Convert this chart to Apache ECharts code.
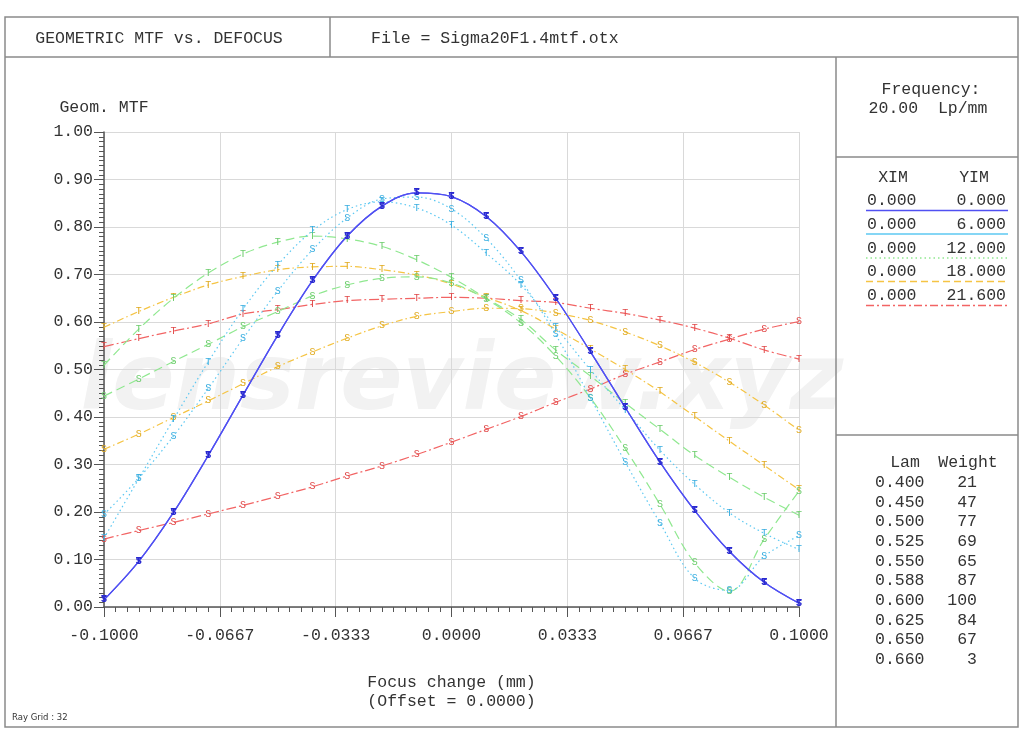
<!DOCTYPE html>
<html>
<head>
<meta charset="utf-8">
<script src="https://cdn.jsdelivr.net/npm/echarts@6/dist/echarts.min.js"></script>
<style>
html,body{margin:0;padding:0;background:#fff;}
#chart{width:1024px;height:731px;}
</style>
</head>
<body>
<div id="chart"></div>
<script>
// ---- data ----
const focus = [-0.10,-0.09,-0.08,-0.07,-0.06,-0.05,-0.04,-0.03,-0.02,-0.01,0.00,0.01,0.02,0.03,0.04,0.05,0.06,0.07,0.08,0.09,0.10];
const xTickLabels = ['-0.1000','-0.0667','-0.0333','0.0000','0.0333','0.0667','0.1000'];
// field 0.000 (T and S coincide)
const f0T = [0.015,0.096,0.199,0.319,0.446,0.572,0.687,0.781,0.844,0.872,0.864,0.822,0.748,0.650,0.537,0.420,0.305,0.203,0.117,0.052,0.008];
const f0S = [0.015,0.096,0.199,0.319,0.446,0.572,0.687,0.781,0.844,0.872,0.864,0.822,0.748,0.650,0.537,0.420,0.305,0.203,0.117,0.052,0.008];
// field 6.000
const f6T = [0.145,0.270,0.395,0.516,0.627,0.720,0.792,0.837,0.853,0.840,0.804,0.745,0.678,0.589,0.499,0.415,0.330,0.258,0.198,0.155,0.121];
const f6S = [0.195,0.271,0.360,0.460,0.565,0.665,0.752,0.819,0.859,0.863,0.838,0.776,0.687,0.573,0.440,0.305,0.177,0.060,0.035,0.107,0.150];
// field 12.000
const f12T = [0.509,0.585,0.650,0.703,0.743,0.768,0.781,0.775,0.759,0.731,0.694,0.650,0.605,0.541,0.486,0.429,0.374,0.319,0.273,0.231,0.193];
const f12S = [0.444,0.480,0.517,0.553,0.590,0.622,0.655,0.678,0.692,0.695,0.682,0.648,0.598,0.528,0.440,0.333,0.216,0.093,0.033,0.143,0.244];
// field 18.000
const f18T = [0.589,0.622,0.652,0.678,0.696,0.710,0.716,0.717,0.710,0.699,0.680,0.652,0.624,0.585,0.543,0.500,0.453,0.401,0.349,0.298,0.247];
const f18S = [0.332,0.364,0.399,0.434,0.470,0.506,0.537,0.566,0.592,0.612,0.622,0.629,0.628,0.619,0.603,0.579,0.550,0.515,0.473,0.425,0.372];
// field 21.600
const f216T = [0.548,0.565,0.581,0.596,0.617,0.626,0.637,0.645,0.648,0.650,0.652,0.650,0.645,0.641,0.629,0.618,0.604,0.587,0.566,0.541,0.522];
const f216S = [0.143,0.161,0.178,0.196,0.214,0.233,0.253,0.276,0.297,0.321,0.347,0.374,0.401,0.431,0.459,0.490,0.516,0.542,0.564,0.585,0.601];

const fieldXIM = ['0.000','0.000','0.000','0.000','0.000'];
const fieldYIM = ['0.000','6.000','12.000','18.000','21.600'];
const lamValues = ['0.400','0.450','0.500','0.525','0.550','0.588','0.600','0.625','0.650','0.660'];
const lamWeights = ['21','47','77','69','65','87','100','84','67','3'];

// ---- styles ----
const MONO = '"Liberation Mono", "DejaVu Sans Mono", monospace';
const fieldColors = ['#5050f2','#5cc8f2','#90e890','#f5c444','#f26464'];
const labelColors = ['#2a2ad0','#3aaee0','#6ccc6c','#e0aa20','#e04848'];
const lineTypes = ['solid',[1.5,3],[9,5],[7,3,1.5,3],[10,3,2,3]];

const fields = [
  {T:f0T, S:f0S}, {T:f6T, S:f6S}, {T:f12T, S:f12S}, {T:f18T, S:f18S}, {T:f216T, S:f216S}
];

const series = [];
fields.forEach((f, k) => {
  ['T','S'].forEach(kind => {
    series.push({
      name: fieldYIM[k] + ' ' + kind,
      type: 'line',
      data: focus.map((x, i) => [x, f[kind][i]]),
      smooth: 0.35,
      symbol: 'circle',
      symbolSize: 2,
      itemStyle: {color: 'rgba(0,0,0,0)'},
      lineStyle: {color: fieldColors[k], width: k === 0 ? 1.3 : 1.2, type: lineTypes[k]},
      label: {
        show: true, position: 'inside', formatter: kind,
        color: labelColors[k], fontFamily: MONO, fontSize: 10, fontWeight: k === 0 ? 'bold' : 'normal'
      },
      emphasis: {disabled: true},
      z: k === 0 ? 10 : 5 - k,
      animation: false
    });
  });
});

// ---- graphic (frame, header, side panels) ----
const G = [];
const gline = (x1,y1,x2,y2,w,c,dash) => G.push({type:'line', shape:{x1,y1,x2,y2}, style:{stroke:c||'#8a8a8a', lineWidth:w||1.5, lineDash:dash||null}, silent:true, z:1});
const gtext = (x,y,t,opt) => G.push({type:'text', x, y, silent:true, z:1, style:Object.assign({text:t, fill:'#333', font:'16.5px ' + MONO, textAlign:'left', textVerticalAlign:'middle'}, opt||{})});

// watermark
G.push({type:'text', x:462, y:385, silent:true, z:0, style:{text:'lensreview.xyz', fill:'#f2f2f2', font:'italic bold 92px "DejaVu Sans", sans-serif', textAlign:'center', textVerticalAlign:'middle'}});

G.push({type:'rect', shape:{x:5, y:17, width:1013, height:710}, style:{fill:'none', stroke:'#8a8a8a', lineWidth:1.5}, silent:true, z:1});
gline(5,57,1018,57);
gline(330,17,330,57);
gline(836,57,836,727);
gline(836,157,1018,157);
gline(836,435,1018,435);

gtext(159,39,'GEOMETRIC MTF vs. DEFOCUS',{textAlign:'center'});
gtext(371,39,'File = Sigma20F1.4mtf.otx');
gtext(931,90,'Frequency:',{textAlign:'center'});
gtext(928,109,'20.00  Lp/mm',{textAlign:'center'});
gtext(893,178,'XIM',{textAlign:'center'});
gtext(974,178,'YIM',{textAlign:'center'});
const legendDash = [null, null, [1.5,3], [7,4], [8,3,2,3]];
const rowY = [201,224.5,248.5,272,296];
fieldYIM.forEach((v,k) => {
  gtext(867,rowY[k],fieldXIM[k]);
  gtext(1006,rowY[k],v,{textAlign:'right'});
  gline(866,rowY[k]+9.5,1008,rowY[k]+9.5,1.3,fieldColors[k],legendDash[k]);
});
gtext(905,463,'Lam',{textAlign:'center'});
gtext(968,463,'Weight',{textAlign:'center'});
lamValues.forEach((v,k) => {
  const y = 482.5 + k*19.7;
  gtext(875,y,v);
  gtext(977,y,lamWeights[k],{textAlign:'right'});
});
gtext(12,718,'Ray Grid : 32',{font:'8.5px "DejaVu Sans", sans-serif'});

const option = {
  backgroundColor: '#ffffff',
  animation: false,
  grid: {left:104, top:132, width:695, height:475, containLabel:false},
  xAxis: {
    type: 'value', min: -0.1, max: 0.1, interval: 0.2/6,
    name: 'Focus change (mm)\n(Offset = 0.0000)',
    nameLocation: 'middle', nameGap: 66,
    nameTextStyle: {fontFamily: MONO, fontSize: 16.5, color:'#333', lineHeight: 19},
    axisLine: {onZero:false, lineStyle:{color:'#555', width:1.5}},
    axisTick: {show:true, length:10, lineStyle:{color:'#555'}},
    minorTick: {show:true, splitNumber:10, length:5, lineStyle:{color:'#555'}},
    axisLabel: {margin:20, fontFamily: MONO, fontSize:16.5, color:'#333',
      formatter: v => { const i = Math.round((v + 0.1) / (0.2/6)); return xTickLabels[i] || ''; }},
    splitLine: {show:true, lineStyle:{color:'#d9d9d9', width:1}}
  },
  yAxis: {
    type: 'value', min: 0, max: 1, interval: 0.1,
    name: 'Geom. MTF', nameLocation: 'end', nameGap: 16,
    nameTextStyle: {fontFamily: MONO, fontSize: 16.5, color:'#333', align:'center'},
    axisLine: {show:true, onZero:false, lineStyle:{color:'#555', width:1.5}},
    axisTick: {show:true, length:10, lineStyle:{color:'#555'}},
    minorTick: {show:true, splitNumber:10, length:5, lineStyle:{color:'#555'}},
    axisLabel: {margin:11, fontFamily: MONO, fontSize:16.5, color:'#333', formatter: v => v.toFixed(2)},
    splitLine: {show:true, lineStyle:{color:'#d9d9d9', width:1}}
  },
  graphic: G,
  series: series
};

const chart = echarts.init(document.getElementById('chart'), null, {renderer:'canvas'});
chart.setOption(option);
</script>
</body>
</html>
